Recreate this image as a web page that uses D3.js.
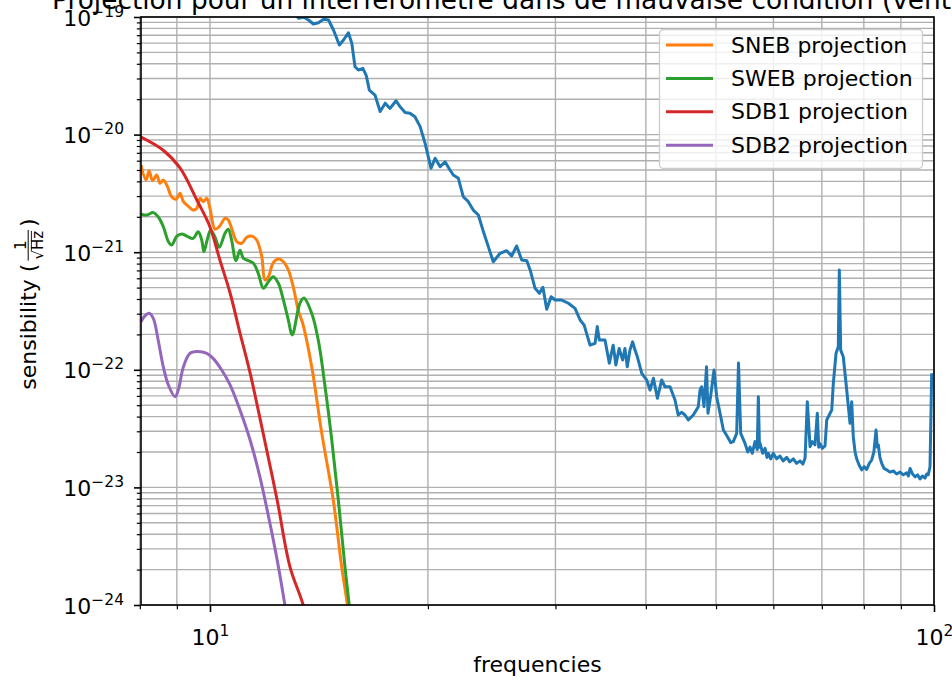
<!DOCTYPE html>
<html>
<head>
<meta charset="utf-8">
<script src="https://cdn.jsdelivr.net/npm/d3@7"></script>
<style>
  body { margin: 0; background: #ffffff; }
  svg text { font-family: "DejaVu Sans", sans-serif; fill: #000; }
</style>
</head>
<body>
<svg id="chart" width="952" height="682"></svg>
<script>
// ---- data -------------------------------------------------------------
const xDomain = [8.03, 100];
const yDomain = [1e-24, 1e-19];
const xMajorTicks = [10, 100];
const xMajorLabels = ["1", "2"];
const xMinorTicks = [8, 9, 20, 30, 40, 50, 60, 70, 80, 90];
const yMajorTicks = [1e-24, 1e-23, 1e-22, 1e-21, 1e-20, 1e-19];
const yMajorLabels = ["\u221224", "\u221223", "\u221222", "\u221221", "\u221220", "\u221219"];
const yMinorMantissas = [2, 3, 4, 5, 6, 7, 8, 9];

const titleText = "Projection pour un interf\u00e9rom\u00e8tre dans de mauvaise condition (vent fort)";
const xLabel = "frequencies";

// measured interferometer sensitivity [frequency (Hz), amplitude]
const interferometerNoise = [
  [12.90,1.26e-19],[13.25,9.75e-20],[13.47,9.94e-20],[13.68,9.43e-20],[13.89,8.72e-20],[14.12,8.94e-20],
  [14.35,9.56e-20],[14.58,9.43e-20],[14.81,7.75e-20],[15.09,5.78e-20],[15.29,6.37e-20],[15.53,7.35e-20],
  [15.70,5.97e-20],[15.86,3.78e-20],[16.03,3.54e-20],[16.26,3.66e-20],[16.43,3.21e-20],[16.60,2.39e-20],
  [16.90,2.17e-20],[17.18,1.57e-20],[17.46,1.85e-20],[17.73,1.67e-20],[18.07,1.94e-20],[18.30,1.73e-20],
  [18.60,1.54e-20],[18.89,1.52e-20],[19.19,1.42e-20],[19.51,1.17e-20],[19.82,8.43e-21],[20.02,6.49e-21],
  [20.20,5.17e-21],[20.46,6.29e-21],[20.79,5.33e-21],[21.12,5.88e-21],[21.45,5.00e-21],[21.68,4.53e-21],
  [22.03,4.25e-21],[22.38,2.96e-21],[22.74,2.69e-21],[23.10,2.28e-21],[23.48,2.07e-21],[23.86,1.49e-21],
  [24.24,1.11e-21],[24.62,8.30e-22],[25.16,9.79e-22],[25.69,1.03e-21],[26.10,9.28e-22],[26.52,1.13e-21],
  [26.95,8.58e-22],[27.39,8.47e-22],[27.68,7.06e-22],[28.12,4.93e-22],[28.51,4.47e-22],[28.83,5.03e-22],
  [29.18,3.27e-22],[29.59,4.18e-22],[29.97,3.92e-22],[30.61,3.92e-22],[31.26,3.68e-22],[31.93,3.33e-22],
  [32.45,2.65e-22],[32.87,2.40e-22],[33.49,1.62e-22],[34.03,1.68e-22],[34.27,2.33e-22],[34.49,1.79e-22],
  [35.12,1.79e-22],[35.61,1.14e-22],[36.05,1.62e-22],[36.36,1.10e-22],[36.74,1.52e-22],[37.15,1.21e-22],
  [37.42,1.52e-22],[37.70,1.06e-22],[38.02,1.47e-22],[38.35,1.73e-22],[38.64,1.47e-22],[38.93,1.29e-22],
  [39.48,9.34e-23],[40.11,8.19e-23],[40.53,6.73e-23],[40.97,8.47e-23],[41.49,5.72e-23],[42.06,8.19e-23],
  [42.50,7.18e-23],[43.19,7.18e-23],[43.88,5.54e-23],[44.33,4.13e-23],[44.80,4.35e-23],[45.30,4.13e-23],
  [45.78,3.74e-23],[46.51,4.13e-23],[47.26,4.86e-23],[47.52,6.73e-23],[47.77,7.18e-23],[48.12,4.86e-23],
  [48.51,1.06e-22],[48.73,4.27e-23],[49.13,5.90e-23],[49.68,9.96e-23],[50.10,5.90e-23],[50.64,4.27e-23],
  [51.18,3.08e-23],[51.99,2.62e-23],[52.40,2.40e-23],[52.82,2.45e-23],[53.39,2.88e-23],[53.70,1.14e-22],
  [54.08,2.88e-23],[54.83,2.37e-23],[55.30,2.00e-23],[55.71,2.20e-23],[56.10,1.95e-23],[56.60,2.45e-23],
  [57.00,2.10e-23],[57.20,5.90e-23],[57.40,2.20e-23],[57.51,2.37e-23],[58.00,1.95e-23],[58.43,2.15e-23],
  [58.80,1.80e-23],[59.04,1.95e-23],[59.50,1.75e-23],[59.98,1.95e-23],[60.60,1.75e-23],[61.27,1.85e-23],
  [61.90,1.68e-23],[62.59,1.80e-23],[63.20,1.65e-23],[63.93,1.75e-23],[64.60,1.60e-23],[65.31,1.68e-23],
  [65.90,1.58e-23],[66.36,1.77e-23],[66.84,5.35e-23],[67.42,2.22e-23],[67.90,2.45e-23],[68.49,2.30e-23],
  [69.00,4.27e-23],[69.30,2.20e-23],[69.59,2.35e-23],[70.10,2.15e-23],[70.71,2.25e-23],[71.09,3.74e-23],
  [72.24,4.55e-23],[72.60,7.68e-23],[73.23,1.38e-22],[73.76,1.57e-22],[74.00,7.06e-22],[74.32,1.47e-22],
  [74.94,1.29e-22],[75.76,6.73e-23],[76.56,3.51e-23],[76.97,5.35e-23],[77.36,2.70e-23],[77.80,2.00e-23],
  [78.20,1.75e-23],[78.80,1.55e-23],[79.45,1.41e-23],[80.10,1.50e-23],[80.72,1.42e-23],[81.40,1.60e-23],
  [82.02,1.71e-23],[82.60,2.00e-23],[83.17,3.08e-23],[83.50,2.20e-23],[83.78,2.30e-23],[84.20,1.80e-23],
  [84.68,1.60e-23],[85.30,1.45e-23],[86.04,1.41e-23],[86.90,1.35e-23],[87.87,1.38e-23],[88.80,1.30e-23],
  [89.76,1.35e-23],[90.70,1.28e-23],[91.69,1.33e-23],[92.20,1.25e-23],[92.67,1.45e-23],[93.40,1.30e-23],
  [94.15,1.23e-23],[94.90,1.28e-23],[95.65,1.18e-23],[96.40,1.25e-23],[97.19,1.20e-23],[97.70,1.30e-23],
  [98.20,1.28e-23],[98.74,1.50e-23],[99.27,9.34e-23]
];

const snebProjection = [
  [8.03,5.51e-21],[8.16,4.11e-21],[8.24,4.93e-21],[8.33,4.06e-21],[8.44,4.53e-21],[8.53,3.85e-21],
  [8.62,4.11e-21],[8.73,3.65e-21],[8.85,2.96e-21],[8.98,2.82e-21],[9.09,3.17e-21],[9.19,2.69e-21],
  [9.33,2.47e-21],[9.48,2.28e-21],[9.59,2.36e-21],[9.69,2.87e-21],[9.79,2.69e-21],[9.90,2.87e-21],
  [10.00,2.36e-21],[10.16,1.57e-21],[10.30,1.65e-21],[10.49,1.94e-21],[10.60,1.88e-21],[10.71,1.60e-21],
  [10.89,1.23e-21],[11.06,1.19e-21],[11.24,1.34e-21],[11.42,1.37e-21],[11.60,1.27e-21],[11.79,9.16e-22],
  [11.91,5.80e-22],[12.04,6.19e-22],[12.23,8.14e-22],[12.43,8.75e-22],[12.63,8.30e-22],[12.83,7.06e-22],
  [13.03,5.09e-22],[13.24,3.22e-22],[13.45,2.40e-22],[13.82,1.06e-22],[14.27,2.88e-23],[14.80,7.81e-24],
  [15.20,2.12e-24],[15.48,1.0e-24],[15.80,3.0e-25]
];

const swebProjection = [
  [8.03,2.11e-21],[8.18,2.07e-21],[8.35,2.17e-21],[8.48,2.00e-21],[8.62,1.65e-21],[8.76,1.23e-21],
  [8.85,1.15e-21],[9.00,1.37e-21],[9.14,1.43e-21],[9.29,1.37e-21],[9.48,1.31e-21],[9.63,1.49e-21],
  [9.74,1.27e-21],[9.81,1.01e-21],[9.91,1.27e-21],[10.02,1.54e-21],[10.16,1.35e-21],[10.30,1.10e-21],
  [10.49,1.45e-21],[10.60,1.57e-21],[10.71,1.27e-21],[10.86,8.47e-22],[11.00,1.04e-21],[11.12,8.87e-22],
  [11.30,8.47e-22],[11.48,8.05e-22],[11.66,6.61e-22],[11.85,4.93e-22],[12.04,5.61e-22],[12.23,6.19e-22],
  [12.43,5.44e-22],[12.63,3.92e-22],[12.83,2.65e-22],[12.99,1.98e-22],[13.31,3.68e-22],[13.48,4.08e-22],
  [13.82,3.02e-22],[14.11,1.79e-22],[14.42,7.18e-23],[14.73,2.53e-23],[15.04,7.81e-24],[15.36,2.12e-24],
  [15.57,1.0e-24],[15.90,3.0e-25]
];

const sdb1Projection = [
  [8.03,9.54e-21],[8.61,7.40e-21],[9.09,5.20e-21],[9.59,2.78e-21],[10.00,1.64e-21],[10.32,8.59e-22],
  [10.66,4.50e-22],[11.00,2.06e-22],[11.36,9.40e-23],[11.84,2.90e-23],[12.38,7.82e-24],[12.90,2.10e-24],
  [13.45,1.0e-24],[13.80,5.0e-25]
];

const sdb2Projection = [
  [8.03,2.56e-22],[8.13,2.87e-22],[8.24,3.02e-22],[8.35,2.74e-22],[8.48,1.79e-22],[8.62,1.06e-22],
  [8.76,7.43e-23],[8.95,5.90e-23],[9.04,6.73e-23],[9.19,1.06e-22],[9.38,1.38e-22],[9.59,1.43e-22],
  [9.90,1.38e-22],[10.10,1.25e-22],[10.38,9.96e-23],[10.66,7.43e-23],[11.00,4.55e-23],[11.36,2.53e-23],
  [11.72,1.23e-23],[12.10,4.95e-24],[12.43,2.12e-24],[12.69,1.0e-24],[13.00,4.0e-25]
];

const seriesNames = ["SNEB projection", "SWEB projection", "SDB1 projection", "SDB2 projection"];
const seriesColors = ["#ff7f0e", "#2ca02c", "#d62728", "#9467bd"];
const noiseColor = "#1f77b4";

// ---- layout -------------------------------------------------------------
const L = 141, R = 934, T = 17, B = 605;
const FS = 22, FS_SUP = 15.5, LW = 3;

const svg = d3.select("#chart");
const x = d3.scaleLog().domain(xDomain).range([L, R]);
const y = d3.scaleLog().domain(yDomain).range([B, T]);

// grid on major and minor positions
const yMinorTicks = [];
yMajorTicks.slice(0, -1).forEach(p => yMinorMantissas.forEach(m => yMinorTicks.push(m * p)));
const grid = svg.append("g").attr("stroke", "#b0b0b0").attr("stroke-width", 1.4);
grid.selectAll("line.gx").data(xMajorTicks.concat(xMinorTicks)).join("line")
  .attr("x1", d => x(d)).attr("x2", d => x(d)).attr("y1", T).attr("y2", B);
grid.selectAll("line.gy").data(yMajorTicks.concat(yMinorTicks)).join("line")
  .attr("x1", L).attr("x2", R).attr("y1", d => y(d)).attr("y2", d => y(d));

// curves
svg.append("clipPath").attr("id", "plotClip").append("rect")
  .attr("x", L).attr("y", T).attr("width", R - L).attr("height", B - T);
const plot = svg.append("g").attr("clip-path", "url(#plotClip)");

const lineLinear = d3.line().x(d => x(d[0])).y(d => y(d[1]));
const lineSmooth = d3.line().x(d => x(d[0])).y(d => y(d[1])).curve(d3.curveCatmullRom.alpha(0.5));

plot.append("path").datum(interferometerNoise).attr("d", lineLinear)
  .attr("fill", "none").attr("stroke", noiseColor).attr("stroke-width", LW).attr("stroke-linejoin", "round");

const projections = [snebProjection, swebProjection, sdb1Projection, sdb2Projection];
projections.forEach((s, i) => {
  plot.append("path").datum(s).attr("d", lineSmooth)
    .attr("fill", "none").attr("stroke", seriesColors[i]).attr("stroke-width", LW)
    .attr("stroke-linejoin", "round");
});

// axes
function stripAxis(g) {
  g.select(".domain").remove();
  g.attr("font-size", null).attr("font-family", null);
}
const gxMinor = svg.append("g").attr("transform", `translate(0,${B})`)
  .call(d3.axisBottom(x).tickValues(xMinorTicks).tickSize(4.2).tickSizeOuter(0).tickFormat(() => ""));
stripAxis(gxMinor); gxMinor.selectAll("line").attr("stroke-width", 1.2);

const gxMajor = svg.append("g").attr("transform", `translate(0,${B})`)
  .call(d3.axisBottom(x).tickValues(xMajorTicks).tickSize(7).tickSizeOuter(0).tickFormat(() => ""));
stripAxis(gxMajor); gxMajor.selectAll("line").attr("stroke-width", 1.6);
gxMajor.selectAll(".tick text").each(function (d, i) {
  const t = d3.select(this).text(null).attr("y", 40).attr("dy", null)
    .attr("font-size", FS).attr("text-anchor", "middle");
  t.append("tspan").text("10");
  t.append("tspan").attr("font-size", FS_SUP).attr("dy", -9).text(xMajorLabels[i]);
});

const gyMinor = svg.append("g").attr("transform", `translate(${L},0)`)
  .call(d3.axisLeft(y).tickValues(yMinorTicks).tickSize(4.2).tickSizeOuter(0).tickFormat(() => ""));
stripAxis(gyMinor); gyMinor.selectAll("line").attr("stroke-width", 1.2);

const gyMajor = svg.append("g").attr("transform", `translate(${L},0)`)
  .call(d3.axisLeft(y).tickValues(yMajorTicks).tickSize(7).tickSizeOuter(0).tickFormat(() => ""));
stripAxis(gyMajor); gyMajor.selectAll("line").attr("stroke-width", 1.6);
gyMajor.selectAll(".tick text").each(function (d, i) {
  const t = d3.select(this).text(null).attr("x", -17).attr("y", 8).attr("dy", null)
    .attr("font-size", FS).attr("text-anchor", "end");
  t.append("tspan").text("10");
  t.append("tspan").attr("font-size", FS_SUP).attr("dy", -9).text(yMajorLabels[i]);
});

// frame
svg.append("rect").attr("x", L).attr("y", T).attr("width", R - L).attr("height", B - T)
  .attr("fill", "none").attr("stroke", "#000").attr("stroke-width", 1.6);

// title and axis labels
svg.append("text").attr("x", 52).attr("y", 8.5).attr("font-size", 26.4).text(titleText);
svg.append("text").attr("x", (L + R) / 2).attr("y", 672).attr("text-anchor", "middle")
  .attr("font-size", FS).text(xLabel);

// y label: sensibility (1/sqrt(Hz))
const yl = svg.append("g").attr("transform", "translate(36,304) rotate(-90)");
const inner = yl.append("g");
const t1 = inner.append("text").attr("font-size", FS).text("sensibility (");
const w1 = t1.node().getComputedTextLength();
const fx0 = w1 + 3;
const den = inner.append("text").attr("font-size", 15).attr("x", fx0 + 1).attr("y", 7);
den.append("tspan").text("\u221a");
den.append("tspan").text("Hz");
const wRad = den.node().getSubStringLength(0, 1);
const wDen = den.node().getComputedTextLength();
inner.append("line").attr("x1", fx0 + 1 + wRad - 0.5).attr("x2", fx0 + 1 + wDen)
  .attr("y1", -4.6).attr("y2", -4.6).attr("stroke", "#000").attr("stroke-width", 0.9);
inner.append("line").attr("x1", fx0).attr("x2", fx0 + wDen + 2)
  .attr("y1", -7.8).attr("y2", -7.8).attr("stroke", "#000").attr("stroke-width", 1);
inner.append("text").attr("font-size", 15).attr("text-anchor", "middle")
  .attr("x", fx0 + (wDen + 2) / 2).attr("y", -10.5).text("1");
const t3 = inner.append("text").attr("font-size", FS).attr("x", fx0 + wDen + 5).text(")");
const total = fx0 + wDen + 5 + t3.node().getComputedTextLength();
inner.attr("transform", `translate(${-total / 2},0)`);

// legend
const lg = svg.append("g");
lg.append("rect").attr("x", 659.5).attr("y", 29.5).attr("width", 263).attr("height", 139).attr("rx", 4)
  .attr("fill", "#ffffff").attr("fill-opacity", 0.8).attr("stroke", "#cccccc").attr("stroke-width", 1.3);
seriesNames.forEach((name, i) => {
  const cy = 45 + i * 33.4;
  lg.append("line").attr("x1", 666).attr("x2", 713).attr("y1", cy).attr("y2", cy)
    .attr("stroke", seriesColors[i]).attr("stroke-width", LW);
  lg.append("text").attr("x", 731).attr("y", cy + 7.6).attr("font-size", FS).text(name);
});
</script>
</body>
</html>
